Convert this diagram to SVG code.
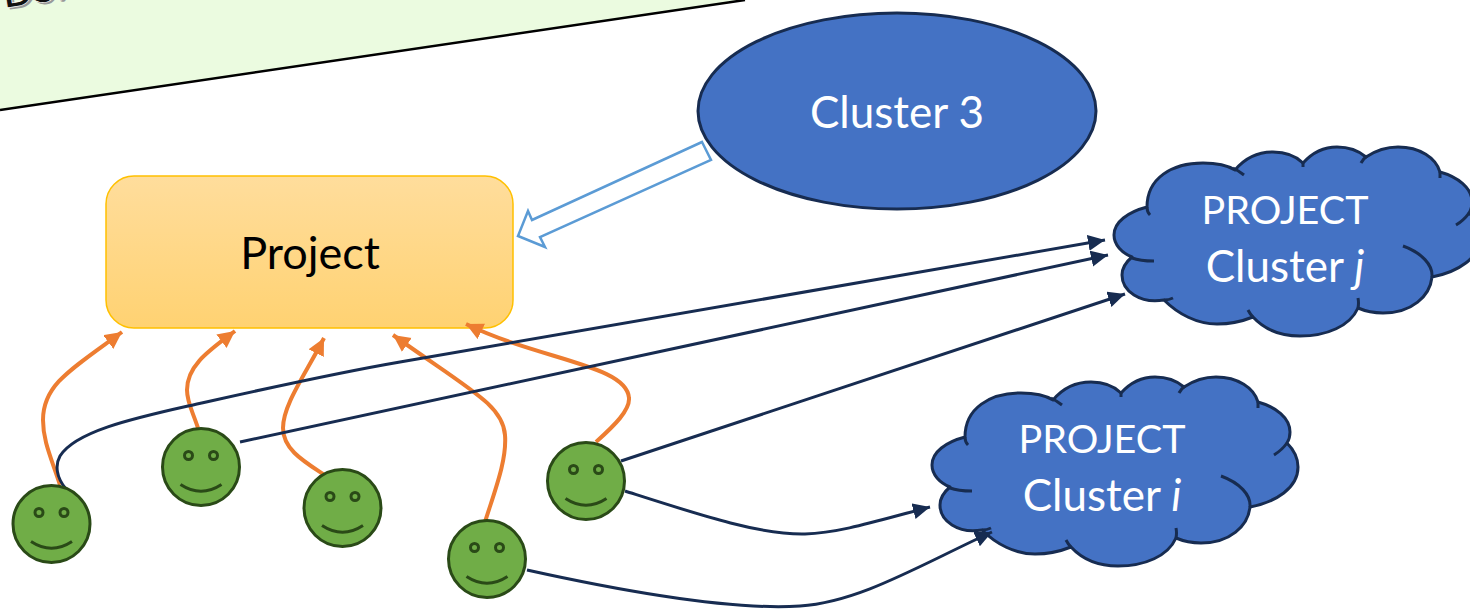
<svg xmlns="http://www.w3.org/2000/svg" width="1470" height="609" viewBox="0 0 1470 609">
<style>
text{font-family:Lato,"Open Sans","Liberation Sans",sans-serif;text-anchor:middle}
.w{fill:#fff;font-size:44px}
.caps{fill:#fff;font-size:39.5px}
.cl{fill:#4472c4;stroke:#172c51;stroke-width:3;stroke-linejoin:round}
.hk{fill:none;stroke:#172c51;stroke-width:3}
.face{fill:#70ad47;stroke:#2a4a17;stroke-width:3}
.sm{fill:none;stroke:#2a4a17;stroke-width:3}
.o{fill:none;stroke:#ed7d31;stroke-width:4;marker-end:url(#ao)}
.n{fill:none;stroke:#172c51;stroke-width:3;marker-end:url(#an)}
</style>
<defs>
<linearGradient id="g" x1="0" y1="0" x2="0" y2="1"><stop offset="0" stop-color="#ffdd9c"/><stop offset="1" stop-color="#ffd272"/></linearGradient>
<marker id="ao" markerUnits="userSpaceOnUse" markerWidth="20" markerHeight="18" refX="17" refY="8.500" orient="auto"><path d="M0,0L17,8.500L0,17z" fill="#ed7d31"/></marker>
<marker id="an" markerUnits="userSpaceOnUse" markerWidth="20" markerHeight="18" refX="17" refY="8" orient="auto"><path d="M0,0L17,8L0,16z" fill="#172c51"/></marker>
<g id="cloud">
<path class="cl" d="M1147,207C1147,178 1172,163 1203,163C1216,163 1227,165 1235,170C1245,158 1258,152 1273,152C1285,152 1296,156 1303,163C1312,153 1324,147 1337,147C1349,147 1359,151 1366,157C1375,151 1385,147 1398,147C1420,147 1436,158 1440,172C1458,177 1472,188 1472,202C1472,206 1471,210 1469,213C1476,220 1480,228 1480,237C1480,258 1458,272 1432,277C1430,296 1412,313 1383,313C1374,313 1365,311 1358,308C1350,326 1327,336 1300,336C1280,336 1264,329 1253,317C1243,321 1230,324 1217,324C1197,324 1178,314 1164,300C1140,304 1122,291 1122,275C1122,268 1126,262 1132,257C1122,253 1114,245 1114,235C1114,222 1128,212 1147,207Z"/>
<path class="hk" d="M1233,168Q1239,171 1244,175M1303,163V167M1367,156Q1363,159 1361,163M1440,172V178M1469,213Q1464,220 1456,225M1403,246C1422,253 1433,265 1432,277M1358,308Q1359,303 1358,298M1253,317Q1250,314 1248,310M1164,300Q1169,300 1173,298M1132,258Q1140,261 1154,261M1147,207Q1147,212 1150,215"/>
</g>
<g id="smiley">
<circle class="face" r="38.5"/>
<circle class="face" cx="-12.500" cy="-11.500" r="4"/>
<circle class="face" cx="12.500" cy="-11.500" r="4"/>
<path class="sm" d="M-20.500,17.500Q0,31 20.500,17.500"/>
</g>
</defs>
<rect width="1470" height="609" fill="#fff"/>
<g id="banner">
<polygon points="0,-10 745,-10 745,0 0,110" fill="#ebfbe0"/>
<path d="M0,110L745,0" fill="none" stroke="#000" stroke-width="2.500"/>
<g transform="rotate(-8.500 0 13)" font-size="40" font-weight="700">
<text x="7" y="11" fill="#999" style="text-anchor:start">DS.</text>
<text x="5" y="9" fill="#111" stroke="#fff" stroke-width="0.700" style="text-anchor:start">DS.</text>
</g>
</g>
<g id="project"><rect x="106" y="176" width="407" height="152" rx="28" fill="url(#g)" stroke="#ffc000" stroke-width="1.500"/><text x="310" y="269" font-size="45" fill="#000">Project</text></g>
<g id="cluster3"><ellipse cx="897" cy="111" rx="199" ry="98" fill="#4472c4" stroke="#172c51" stroke-width="3"/><text class="w" x="897" y="128">Cluster 3</text></g>
<g id="cluster-j"><use href="#cloud"/><text class="caps" x="1285" y="224">PROJECT</text><text class="w" x="1285" y="282">Cluster <tspan font-style="italic">j</tspan></text></g>
<g id="cluster-i"><use href="#cloud" x="-182" y="230"/><text class="caps" x="1102" y="453">PROJECT</text><text class="w" x="1102" y="511">Cluster <tspan font-style="italic">i</tspan></text></g>
<g id="connectors">
<path class="o" d="M60,485C50,455 43,440 43,420C43,385 70,370 122,332"/>
<path class="o" d="M198,428C192,410 187,402 187,390C187,365 210,350 235,331"/>
<path class="o" d="M326,476C305,462 283,450 283,428C283,405 305,375 324,338"/>
<path class="o" d="M484,525C495,490 507,460 505,435C503,405 470,390 393,335"/>
<path class="o" d="M596,442C615,425 630,410 629,398C627,365 540,360 466,324"/>
<path class="n" d="M66,489C56,477 55,465 60,456C75,432 130,419 188,406C260,390 330,374 400,362L1105,240"/>
<path class="n" d="M240,442L1108,255"/>
<path class="n" d="M621,461L1125,294"/>
<path class="n" d="M625,491C700,515 760,535 805,534C840,533 880,520 930,507"/>
<path class="n" d="M527,570C640,595 740,610 800,606C860,602 920,565 992,532"/>
<polygon points="702,142 711,160 540,237 545,247 518,236 528,211 532,220" fill="#fff" stroke="#5b9bd5" stroke-width="2.500"/>
</g>
<g id="person-1"><use href="#smiley" x="51.500" y="524"/></g>
<g id="person-2"><use href="#smiley" x="201" y="467"/></g>
<g id="person-3"><use href="#smiley" x="342.500" y="508"/></g>
<g id="person-4"><use href="#smiley" x="487" y="559"/></g>
<g id="person-5"><use href="#smiley" x="586" y="481"/></g>
</svg>
